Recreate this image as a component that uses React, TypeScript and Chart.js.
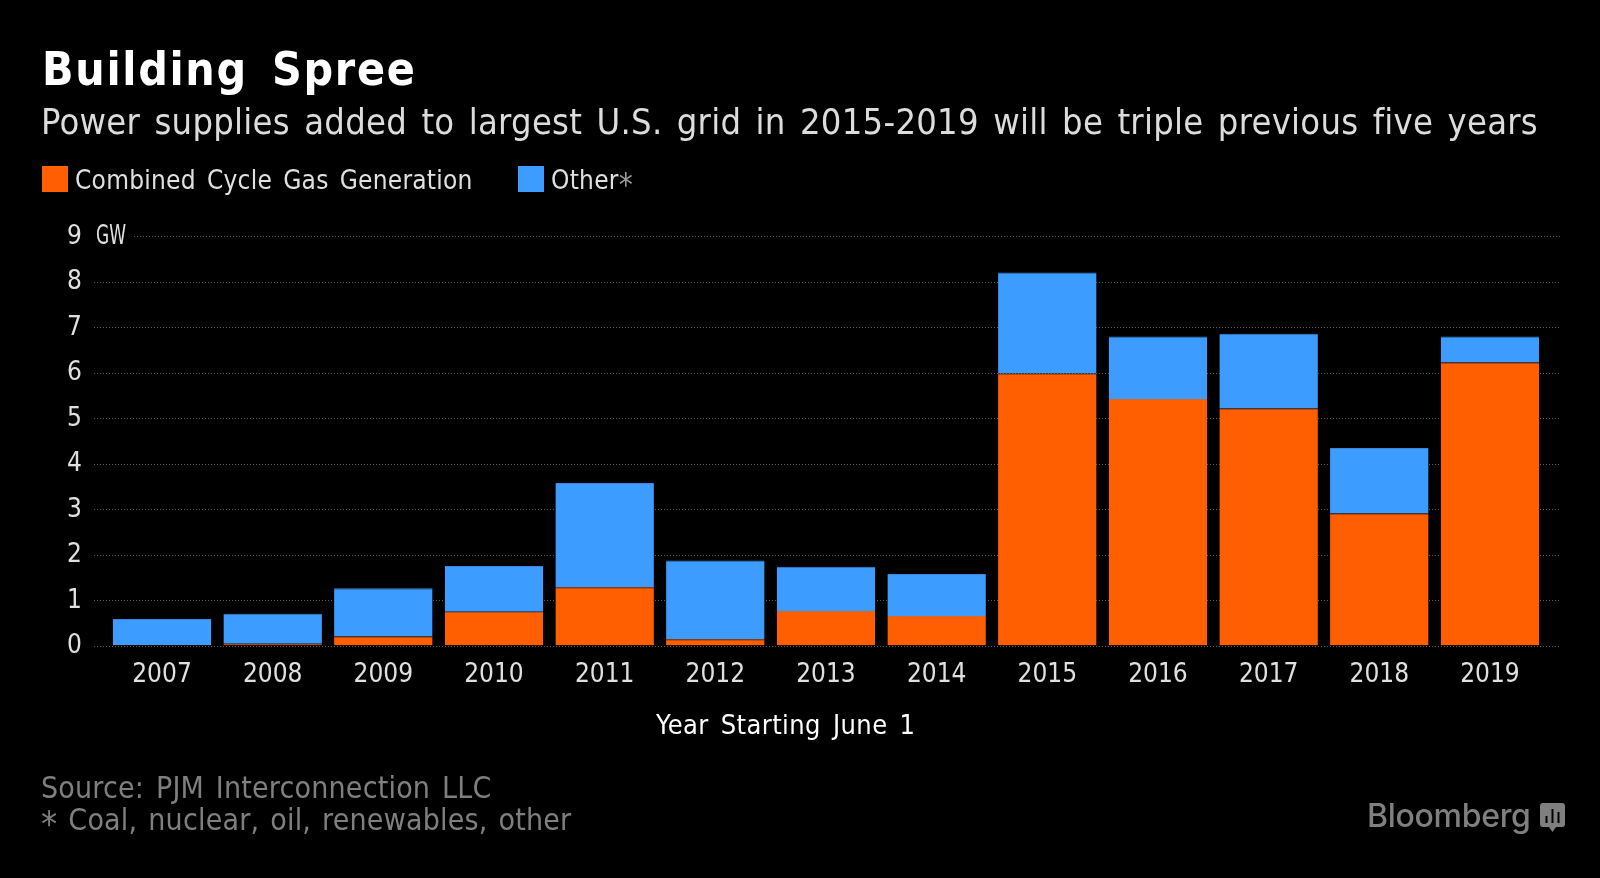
import React, { useEffect, useRef } from "react";
import { Chart, registerables } from "chart.js";

Chart.register(...registerables);

const years = ["2007","2008","2009","2010","2011","2012","2013","2014","2015","2016","2017","2018","2019"];
const gas = [0.01, 0.04, 0.2, 0.74, 1.28, 0.14, 0.76, 0.65, 5.98, 5.42, 5.21, 2.9, 6.22];
const other = [0.57, 0.66, 1.06, 1.01, 2.29, 1.73, 0.97, 0.92, 2.22, 1.37, 1.64, 1.44, 0.57];
const yTicks = [0, 1, 2, 3, 4, 5, 6, 7, 8, 9];
const ORANGE = "#ff5f00";
const BLUE = "#3d9cff";
const FONT = '"DejaVu Sans Condensed", "DejaVu Sans"';

const dottedGrid = {
  id: "dottedGrid",
  beforeDatasetsDraw(chart: any) {
    const { ctx, scales } = chart;
    ctx.save();
    ctx.strokeStyle = "#5f5f5f";
    ctx.lineWidth = 1;
    ctx.setLineDash([1, 2]);
    yTicks.forEach((t) => {
      const y = Math.round(scales.y.getPixelForValue(t)) + 0.5;
      ctx.beginPath();
      ctx.moveTo(t === 9 ? 134 : 94, y);
      ctx.lineTo(1560, y);
      ctx.stroke();
    });
    ctx.setLineDash([]);
    ctx.fillStyle = "#e0e0e0";
    ctx.font = `26px ${FONT}`;
    ctx.textAlign = "left";
    ctx.textBaseline = "middle";
    ctx.fillText("GW", 96, scales.y.getPixelForValue(9) + 1, 30);
    ctx.restore();
  },
};

const abs = (left: number, top: number, size: number, color: string, extra: any = {}) => ({
  position: "absolute" as const,
  left,
  top,
  fontSize: size,
  lineHeight: `${Math.round(size * 1.2)}px`,
  color,
  fontFamily: FONT,
  whiteSpace: "pre" as const,
  ...extra,
});

const spacing = (letter: number, word: number) => ({ letterSpacing: letter, wordSpacing: word });
const star = (color: string) => (
  <span style={{ position: "relative", top: 6, color, fontSize: "1.2em", lineHeight: 0 }}>*</span>
);

export default function App() {
  const ref = useRef<HTMLCanvasElement>(null);
  useEffect(() => {
    document.body.style.margin = "0";
    document.body.style.background = "#000";
    const topEdge = { top: 1, left: 0, right: 0, bottom: 0 };
    const chart = new Chart(ref.current!, {
      type: "bar",
      data: {
        labels: years,
        datasets: [
          { label: "Combined Cycle Gas Generation", data: gas, backgroundColor: ORANGE, borderColor: "#d8682a", borderWidth: topEdge, barPercentage: 0.89, categoryPercentage: 1 },
          { label: "Other*", data: other, backgroundColor: BLUE, borderColor: "#3a86d8", borderWidth: topEdge, barPercentage: 0.89, categoryPercentage: 1 },
        ],
      },
      options: {
        responsive: false,
        animation: false,
        layout: { padding: { left: 67, right: 54.7, top: 236, bottom: 0 } },
        plugins: { legend: { display: false }, tooltip: { enabled: false } },
        scales: {
          x: {
            stacked: true,
            grid: { display: false },
            border: { display: false },
            ticks: { color: "#e0e0e0", font: { family: FONT, size: 26 }, padding: 6, maxRotation: 0 },
            afterFit: (s: any) => { s.height = 232.5; },
          },
          y: {
            stacked: true,
            min: 0,
            max: 9,
            grid: { display: false },
            border: { display: false },
            afterFit: (s: any) => { s.width = 39.67; },
            ticks: {
              stepSize: 1,
              color: "#e0e0e0",
              crossAlign: "far",
              labelOffset: 1,
              font: { family: FONT, size: 26 },
            },
          },
        },
      },
      plugins: [dottedGrid],
    } as any);
    return () => chart.destroy();
  }, []);

  return (
    <div style={{ position: "relative", width: 1600, height: 878, background: "#000", overflow: "hidden" }}>
      <canvas ref={ref} width={1600} height={878} style={{ position: "absolute", left: 0, top: 0 }} />
      <div style={abs(42, 42, 46, "#ffffff", { fontWeight: 700, ...spacing(1.7, 8) })}>Building Spree</div>
      <div style={abs(41, 100, 36, "#dcdcdc", spacing(0.27, 3.75))}>Power supplies added to largest U.S. grid in 2015-2019 will be triple previous five years</div>
      <div style={{ position: "absolute", left: 42, top: 166, width: 26, height: 26, background: ORANGE }} />
      <div style={abs(75, 165, 26, "#e0e0e0", spacing(0.25, 3.4))}>Combined Cycle Gas Generation</div>
      <div style={{ position: "absolute", left: 518, top: 166, width: 26, height: 26, background: BLUE }} />
      <div style={abs(551, 165, 26, "#e0e0e0", spacing(0.25, 3.4))}>Other{star("#9a9a9a")}</div>
      <div style={abs(656, 709, 27, "#ffffff", spacing(0.4, 4))}>Year Starting June 1</div>
      <div style={abs(41, 770, 30, "#7f7f7f", spacing(0.2, 3))}>Source: PJM Interconnection LLC</div>
      <div style={abs(41, 802, 30, "#7f7f7f", spacing(0.2, 2.2))}>{star("#7f7f7f")} Coal, nuclear, oil, renewables, other</div>
      <div style={abs(1367, 797, 32, "#7f7f7f", { fontFamily: "Inter", fontWeight: 500, letterSpacing: -0.3 })}>Bloomberg</div>
      <svg style={{ position: "absolute", left: 1540, top: 803 }} width={25} height={29} viewBox="0 0 25 29">
        <path d="M3 0H22a3 3 0 0 1 3 3V21a3 3 0 0 1-3 3H16L12.500 29L9 24H3a3 3 0 0 1-3-3V3a3 3 0 0 1 3-3Z" fill="#7f7f7f" />
        <rect x="5.500" y="13" width="2" height="7" fill="#000" />
        <rect x="11.500" y="6" width="2" height="14" fill="#000" />
        <rect x="17.500" y="9" width="2" height="11" fill="#000" />
      </svg>
    </div>
  );
}
